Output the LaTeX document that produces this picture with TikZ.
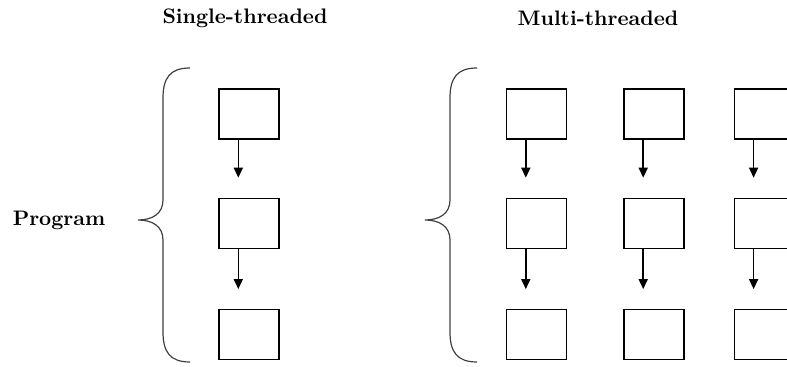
\documentclass[tikz,border=0pt]{standalone}
\usepackage{tikz}
\usetikzlibrary{positioning,arrows.meta}

\begin{document}
\begin{tikzpicture}[
  x=0.5pt, y=-0.5pt,
  box/.style={rectangle, draw=black, line width=0.7pt, fill=white, minimum width=30pt, minimum height=25pt, inner sep=0pt},
  arrow/.style={-{Triangle[length=5pt,width=4.5pt]}, line width=0.8pt, shorten >=10pt},
  brace/.style={line width=0.6pt, draw=black!75},
  title/.style={font=\fontsize{10.5}{12}\selectfont\bfseries}
]
\useasboundingbox (0,0) rectangle (787,367);

% Column headings and side label
\node[title] (single) at (245,18) {Single-threaded};
\node[title] (multi) at (598,18) {Multi-threaded};
\node[title] (program) at (59,220) {Program};

% Single thread: one column of steps
\node[box] (s1) at (249,114) {};
\node[box, below=29pt of s1] (s2) {};
\node[box, below=30pt of s2] (s3) {};

% Multi thread: three columns of steps
\node[box] (a1) at (536.5,114) {};
\node[box, below=29pt of a1] (a2) {};
\node[box, below=30pt of a2] (a3) {};

\node[box, right=28pt of a1] (b1) {};
\node[box, right=28pt of a2] (b2) {};
\node[box, right=28pt of a3] (b3) {};

\node[box, right=24.5pt of b1] (c1) {};
\node[box, right=24.5pt of b2] (c2) {};
\node[box, right=24.5pt of b3] (c3) {};

% Flow arrows, set off to the left of each box
\foreach \col in {s,a,b,c}{
  \draw[arrow] ([xshift=10pt]\col1.south west) -- ([xshift=10pt]\col2.north west);
  \draw[arrow] ([xshift=10pt]\col2.south west) -- ([xshift=10pt]\col3.north west);
}

% Braces grouping each program
\coordinate (stop) at (190,68);
\coordinate (mtop) at (477,68);
\foreach \b in {stop,mtop}{
  \draw[brace] (\b) .. controls +(-20,0) and +(0,-20) .. ++(-27,30)
    -- ++(0,102) .. controls +(0,14) and +(14,0) .. ++(-25,20)
    .. controls +(14,0) and +(0,-14) .. ++(25,20)
    -- ++(0,92) .. controls +(0,20) and +(-20,0) .. ++(27,30);
}

\end{tikzpicture}
\end{document}
